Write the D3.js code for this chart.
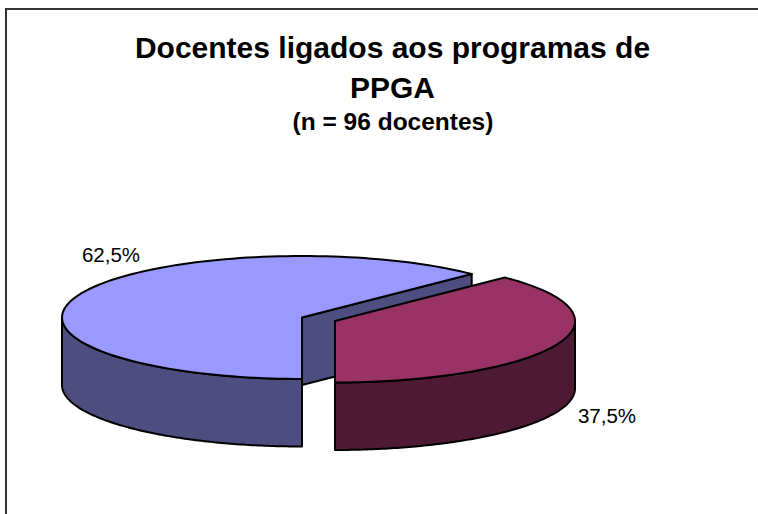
<!DOCTYPE html>
<html>
<head>
<meta charset="utf-8">
<script src="https://cdn.jsdelivr.net/npm/d3@7"></script>
<style>
  html, body { margin: 0; padding: 0; background: #fff; }
  svg { display: block; }
  text { font-family: "Liberation Sans", Arial, sans-serif; fill: #000; }
</style>
</head>
<body>
<div id="chart"></div>
<script>
// Data
const categories = ['Sim', 'Nao']
const values = [62.5, 37.5]
const valueLabels = ['62,5%', '37,5%']
const colorsTop = ['#9999ff', '#993366']
const colorsSide = ['#4d4d80', '#4d1933']
const titleLines = ['Docentes ligados aos programas de', 'PPGA']
const subtitle = '(n = 96 docentes)'

// Dimensions
const dimensions = { width: 758, height: 514 }
const rx = 240
const ry = 61.5
const depth = 67.5
// apex of each slice, the second one is pulled out
const apex = [{ x: 302, y: 317.5 }, { x: 335, y: 321 }]
const labelPos = [{ x: 111, y: 262 }, { x: 607, y: 423 }]

const svg = d3.select('#chart')
  .append('svg')
  .attr('width', dimensions.width)
  .attr('height', dimensions.height)

// Frame, runs past the right and bottom of the picture
svg.append('rect')
  .attr('x', 6)
  .attr('y', 9)
  .attr('width', 800)
  .attr('height', 600)
  .attr('fill', '#fff')
  .attr('stroke', '#333')
  .attr('stroke-width', 2)

// Scales
const pie = d3.pie()
  .value(d => d)
  .sort(null)
  .startAngle(Math.PI)
  .endAngle(3 * Math.PI)

const slices = pie(values)

const px = (i, a) => apex[i].x + rx * Math.sin(a)
const py = (i, a) => apex[i].y - ry * Math.cos(a)
const line = d3.line()

// points along the rim between two angles
const rim = (i, a0, a1) => d3.range(0, 121).map(k => {
  const a = a0 + (a1 - a0) * k / 120
  return [px(i, a), py(i, a)]
})

const topPath = (d, i) => line([[apex[i].x, apex[i].y], ...rim(i, d.startAngle, d.endAngle)]) + 'Z'

// front wall: only the rim part that faces the viewer, sin of the angle decides
// where the rim turns, so 90-270deg and again 450-630deg
const wallPath = (d, i) => {
  const turn = d.startAngle >= 2 * Math.PI ? 2 * Math.PI : 0
  const a0 = Math.max(d.startAngle, Math.PI / 2 + turn)
  const a1 = Math.min(d.endAngle, 3 * Math.PI / 2 + turn)
  const upper = rim(i, a0, a1)
  const lower = upper.map(p => [p[0], p[1] + depth]).reverse()
  return line([...upper, ...lower]) + 'Z'
}

// cut face at the end of the slice
const facePath = (d, i) => {
  const a = d.endAngle
  return line([
    [apex[i].x, apex[i].y],
    [px(i, a), py(i, a)],
    [px(i, a), py(i, a) + depth],
    [apex[i].x, apex[i].y + depth]
  ]) + 'Z'
}

// Draw shape
const pieGroup = svg.append('g')
  .attr('stroke', '#000')
  .attr('stroke-width', 2)
  .attr('stroke-linejoin', 'round')

const sliceGroups = pieGroup.selectAll('g')
  .data(slices)
  .join('g')

sliceGroups.filter((d, i) => i === 0)
  .append('path')
  .attr('d', facePath)
  .attr('fill', colorsSide[0])

sliceGroups.append('path')
  .attr('d', (d, i) => wallPath(d, i))
  .attr('fill', (d, i) => colorsSide[i])

sliceGroups.append('path')
  .attr('d', (d, i) => topPath(d, i))
  .attr('fill', (d, i) => colorsTop[i])

// Labels
svg.append('g')
  .selectAll('text')
  .data(valueLabels)
  .join('text')
  .attr('x', (d, i) => labelPos[i].x)
  .attr('y', (d, i) => labelPos[i].y)
  .attr('text-anchor', 'middle')
  .style('font-size', '20.5px')
  .text(d => d)

// Title
svg.append('g')
  .selectAll('text')
  .data(titleLines)
  .join('text')
  .attr('x', 392.5)
  .attr('y', (d, i) => 58 + i * 39.5)
  .attr('text-anchor', 'middle')
  .style('font-size', '30px')
  .style('font-weight', 'bold')
  .text(d => d)

svg.append('text')
  .attr('x', 393)
  .attr('y', 130)
  .attr('text-anchor', 'middle')
  .style('font-size', '24.5px')
  .style('font-weight', 'bold')
  .text(subtitle)
</script>
</body>
</html>
